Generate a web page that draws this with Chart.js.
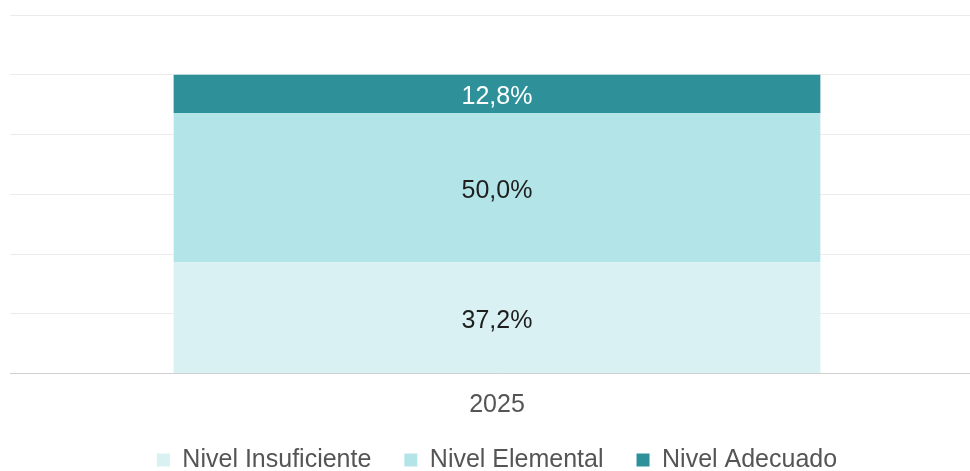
<!DOCTYPE html>
<html>
<head>
<meta charset="utf-8">
<script src="https://cdn.jsdelivr.net/npm/chart.js@4"></script>
<style>
html,body{margin:0;padding:0;background:#fff;overflow:hidden;}
#wrap{width:970px;height:471px;position:relative;overflow:hidden;}
</style>
</head>
<body>
<div id="wrap"><canvas id="c" width="984" height="471"></canvas></div>
<script>
const categories = ["2025"];
const seriesNames = ["Nivel Insuficiente", "Nivel Elemental", "Nivel Adecuado"];
const insuficiente = [37.2];
const elemental = [50.0];
const adecuado = [12.8];
const yTicks = [0, 20, 40, 60, 80, 100, 120];
const colors = ["#D9F1F3", "#B3E4E8", "#2E9199"];
const labelColors = ["#1E1E1E", "#1E1E1E", "#FFFFFF"];
const FONT = '"Liberation Sans", Arial, sans-serif';

const fmt = v => v.toFixed(1).replace('.', ',') + '%';

const labelPlugin = {
  id: 'barLabels',
  afterDatasetsDraw(chart) {
    const ctx = chart.ctx;
    ctx.save();
    ctx.font = '25px ' + FONT;
    ctx.textAlign = 'center';
    ctx.textBaseline = 'middle';
    chart.data.datasets.forEach((ds, i) => {
      const meta = chart.getDatasetMeta(i);
      meta.data.forEach((el, j) => {
        const p = el.getProps(['x', 'y', 'base'], true);
        ctx.fillStyle = labelColors[i];
        ctx.fillText(fmt(ds.data[j]), p.x, (p.y + p.base) / 2 + 3);
      });
    });
    ctx.restore();
  }
};

new Chart(document.getElementById('c'), {
  type: 'bar',
  data: {
    labels: categories,
    datasets: [
      { label: seriesNames[0], data: insuficiente, backgroundColor: colors[0] },
      { label: seriesNames[1], data: elemental, backgroundColor: colors[1] },
      { label: seriesNames[2], data: adecuado, backgroundColor: colors[2] }
    ]
  },
  options: {
    responsive: false,
    animation: false,
    devicePixelRatio: 1,
    layout: { padding: { left: 10, right: 0, top: 15, bottom: -11.5 } },
    datasets: { bar: { barPercentage: 0.664, categoryPercentage: 1 } },
    scales: {
      x: {
        stacked: true,
        grid: { display: false, drawTicks: false },
        border: { display: true, color: '#D0D0D0', width: 1 },
        ticks: { color: '#555555', font: { family: FONT, size: 25 }, padding: 17 },
        afterFit(scale) { scale.height = 41; }
      },
      y: {
        stacked: true,
        min: yTicks[0], max: yTicks[yTicks.length - 1],
        afterBuildTicks(scale) { scale.ticks = yTicks.map(v => ({ value: v })); },
        ticks: { display: false },
        grid: { color: '#EBEBEB', drawTicks: false },
        border: { display: false }
      }
    },
    plugins: {
      legend: {
        position: 'bottom',
        labels: {
          color: '#555555',
          font: { family: FONT, size: 25 },
          boxWidth: 13, boxHeight: 13, padding: 33
        }
      },
      tooltip: { enabled: false }
    }
  },
  plugins: [labelPlugin]
});
</script>
</body>
</html>
